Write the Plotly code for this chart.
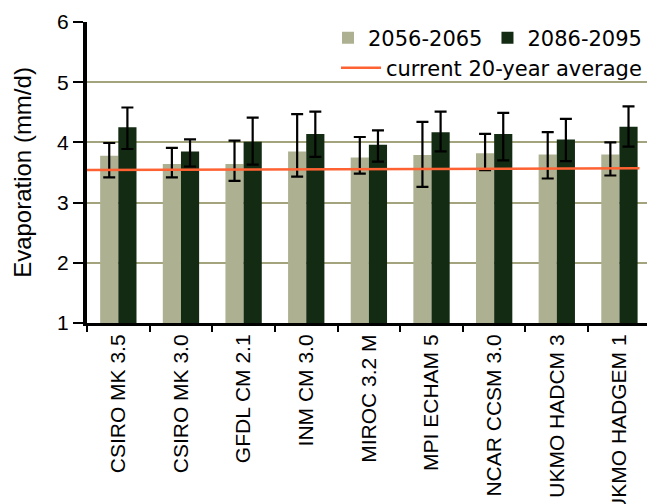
import plotly.graph_objects as go

models = ["CSIRO MK 3.5", "CSIRO MK 3.0", "GFDL CM 2.1", "INM CM 3.0", "MIROC 3.2 M",
          "MPI ECHAM 5", "NCAR CCSM 3.0", "UKMO HADCM 3", "UKMO HADGEM 1"]

# 2056-2065 mean evaporation and error range (mm/d)
mid_mean = [3.78, 3.64, 3.64, 3.85, 3.75, 3.79, 3.82, 3.80, 3.80]
mid_high = [3.99, 3.91, 4.03, 4.47, 4.09, 4.34, 4.14, 4.17, 4.00]
mid_low = [3.42, 3.42, 3.36, 3.43, 3.48, 3.26, 3.54, 3.40, 3.45]

# 2086-2095 mean evaporation and error range (mm/d)
late_mean = [4.25, 3.85, 4.01, 4.14, 3.96, 4.17, 4.14, 4.05, 4.26]
late_high = [4.58, 4.05, 4.41, 4.51, 4.20, 4.51, 4.49, 4.39, 4.60]
late_low = [3.89, 3.60, 3.63, 3.76, 3.68, 3.85, 3.70, 3.69, 3.93]

# current 20-year average (start and end of the reference line)
current_x = [-0.5, 8.32]
current_avg = [3.54, 3.57]

x = list(range(len(models)))

def err(mean, high, low):
    return dict(type="data", symmetric=False,
                array=[h - m for h, m in zip(high, mean)],
                arrayminus=[m - l for m, l in zip(mean, low)],
                color="black", thickness=2.2, width=6)

fig = go.Figure()
fig.add_trace(go.Bar(x=x, y=mid_mean, name="2056-2065", marker_color="#aeb191",
                     marker_line_width=0, error_y=err(mid_mean, mid_high, mid_low),
                     legend="legend"))
fig.add_trace(go.Bar(x=x, y=late_mean, name="2086-2095", marker_color="#132a13",
                     marker_line_width=0, error_y=err(late_mean, late_high, late_low),
                     legend="legend"))
fig.add_trace(go.Scatter(x=current_x, y=current_avg, mode="lines",
                         name="current 20-year average",
                         line=dict(color="#ff6232", width=2.5), legend="legend2"))

font_family = "Liberation Sans, Arial, sans-serif"
legend_font = dict(family="DejaVu Sans, sans-serif", size=21, color="black")

fig.update_layout(
    width=647, height=504,
    margin=dict(l=87, r=0, t=22, b=181),
    paper_bgcolor="white", plot_bgcolor="white",
    barmode="group", bargap=0.42, bargroupgap=0,
    font=dict(family=font_family, color="black"),
    showlegend=True,
    legend=dict(orientation="h", x=1.0, xanchor="right", y=1.015, yanchor="top",
                font=legend_font, bgcolor="rgba(0,0,0,0)",
                itemwidth=30, tracegroupgap=0, traceorder="normal"),
    legend2=dict(orientation="h", x=1.0, xanchor="right", y=0.915, yanchor="top",
                 font=legend_font, bgcolor="rgba(0,0,0,0)", itemwidth=40),
    xaxis=dict(range=[-0.5, 8.44], tickvals=x, ticktext=models, tickangle=-90,
               tickfont=dict(size=21), ticks="", showgrid=False, zeroline=False,
               showline=True, linecolor="black", linewidth=3, automargin=False,
               minor=dict(tick0=-0.5, dtick=1, ticks="outside", ticklen=6,
                          tickwidth=2, tickcolor="black", showgrid=False)),
    yaxis=dict(range=[1, 6], tickvals=[1, 2, 3, 4, 5, 6], tickfont=dict(size=21),
               ticks="outside", ticklen=10, tickwidth=2, tickcolor="black",
               showgrid=True, gridcolor="#a3a47e", gridwidth=2, zeroline=False,
               showline=True, linecolor="black", linewidth=4, automargin=False,
               title=dict(text="Evaporation (mm/d)", font=dict(size=24), standoff=20)),
)

fig.write_html("out.html")
